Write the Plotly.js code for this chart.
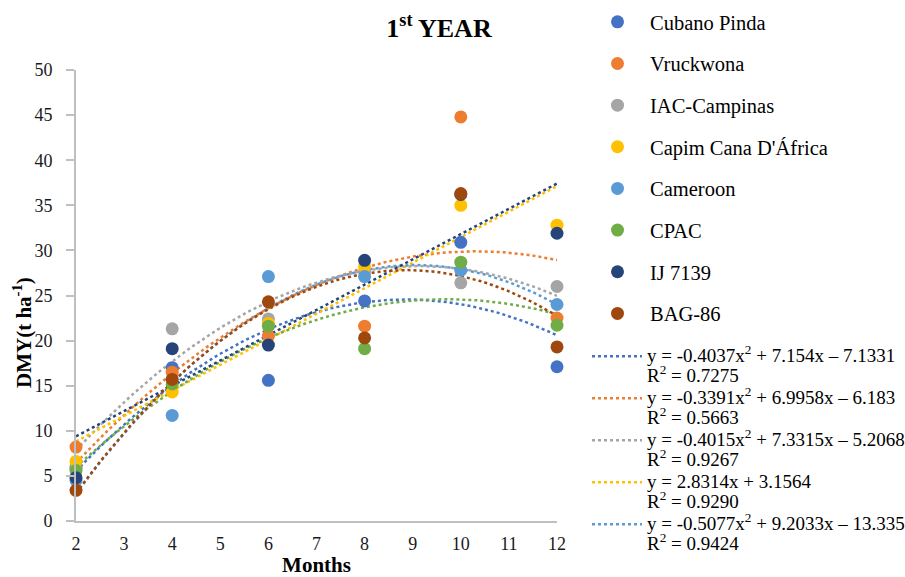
<!DOCTYPE html>
<html><head><meta charset="utf-8">
<script src="https://cdn.plot.ly/plotly-3.0.1.min.js"></script>
<style>html,body{margin:0;padding:0;background:#fff}#chart{width:905px;height:577px}</style>
</head><body><div id="chart"></div>
<script>
// ---- data ----
const months = [2, 4, 6, 8, 10, 12];
const seriesNames = ['Cubano Pinda', 'Vruckwona', 'IAC-Campinas', "Capim Cana D'África", 'Cameroon', 'CPAC', 'IJ 7139', 'BAG-86'];
const cubanoPinda = [6.0, 17.0, 15.6, 24.4, 30.9, 17.1];
const vruckwona   = [8.2, 16.5, 20.5, 21.6, 44.8, 22.5];
const iacCampinas = [5.8, 21.3, 22.4, 27.6, 26.4, 26.0];
const capimCana   = [6.6, 14.3, 21.9, 28.2, 35.0, 32.8];
const cameroon    = [4.5, 11.7, 27.1, 27.1, 27.8, 24.0];
const cpac        = [5.6, 15.2, 21.6, 19.1, 28.7, 21.7];
const ij7139      = [4.8, 19.1, 19.5, 28.9, 36.2, 31.9];
const bag86       = [3.4, 15.7, 24.3, 20.3, 36.3, 19.3];
const seriesValues = [cubanoPinda, vruckwona, iacCampinas, capimCana, cameroon, cpac, ij7139, bag86];
const seriesColors = ['#4472C4', '#ED7D31', '#A5A5A5', '#FFC000', '#5B9BD5', '#70AD47', '#264478', '#9E480E'];

// trendline coefficients printed in the legend: [x^2, x, constant]
const trendCubano   = [-0.4037, 7.154, -7.1331];
const trendVruck    = [-0.3391, 6.9958, -6.183];
const trendIac      = [-0.4015, 7.3315, -5.2068];
const trendCapim    = [0, 2.8314, 3.1564];
const trendCameroon = [-0.5077, 9.2033, -13.335];
const printedTrends = [trendCubano, trendVruck, trendIac, trendCapim, trendCameroon];
const trendEquations = ['y = -0.4037x<sup>2</sup> + 7.154x – 7.1331', 'y = -0.3391x<sup>2</sup> + 6.9958x – 6.183',
  'y = -0.4015x<sup>2</sup> + 7.3315x – 5.2068', 'y = 2.8314x + 3.1564', 'y = -0.5077x<sup>2</sup> + 9.2033x – 13.335'];
const trendR2 = ['0.7275', '0.5663', '0.9267', '0.9290', '0.9424'];
// trend order for series whose equations are not printed (CPAC, IJ 7139, BAG-86)
const unprintedOrders = [2, 1, 2];

// least squares polynomial fit (what the spreadsheet trendline does)
function polyfit(xs, ys, order) {
  const n = order + 1;
  const A = Array.from({length: n}, () => new Array(n + 1).fill(0));
  for (let k = 0; k < xs.length; k++) {
    for (let i = 0; i < n; i++) {
      for (let j = 0; j < n; j++) A[i][j] += Math.pow(xs[k], i + j);
      A[i][n] += ys[k] * Math.pow(xs[k], i);
    }
  }
  for (let i = 0; i < n; i++) {
    let p = i; for (let r = i + 1; r < n; r++) if (Math.abs(A[r][i]) > Math.abs(A[p][i])) p = r;
    [A[i], A[p]] = [A[p], A[i]];
    for (let r = 0; r < n; r++) if (r !== i) {
      const f = A[r][i] / A[i][i];
      for (let c = i; c <= n; c++) A[r][c] -= f * A[i][c];
    }
  }
  const coef = A.map((row, i) => row[n] / row[i]); // [c0, c1, (c2)]
  return [order === 2 ? coef[2] : 0, coef[1], coef[0]];
}
const allTrends = printedTrends.concat(unprintedOrders.map((o, i) => polyfit(months, seriesValues[5 + i], o)));

const trendX = [];
for (let i = 0; i <= 100; i++) trendX.push(months[0] + i * (months[months.length - 1] - months[0]) / 100);

const SERIF = 'Liberation Serif, Times New Roman, serif';
const traces = [];
allTrends.forEach((c, i) => {
  const hasLabel = i < trendEquations.length;
  traces.push({
    type: 'scatter', mode: 'lines', x: trendX,
    y: trendX.map(x => c[0] * x * x + c[1] * x + c[2]),
    line: {color: seriesColors[i], width: 2.5, dash: 'dot'},
    name: hasLabel ? '<span style="font-size:19px">' + trendEquations[i] + '</span><br><span style="font-size:19px">R<sup>2</sup> = ' + trendR2[i] + '</span>' : '',
    showlegend: hasLabel, legend: 'legend2', hoverinfo: 'skip', cliponaxis: false
  });
});
seriesValues.forEach((vals, i) => {
  traces.push({
    type: 'scatter', mode: 'markers', x: months, y: vals, name: seriesNames[i],
    marker: {color: seriesColors[i], size: 13},
    legend: 'legend', legendgroup: 'g' + i, cliponaxis: false
  });
});

const layout = {
  width: 905, height: 577,
  margin: {l: 76, r: 348, t: 70, b: 56},
  paper_bgcolor: '#fff', plot_bgcolor: '#fff',
  font: {family: SERIF, color: '#000'},
  showlegend: true,
  title: {text: '<b>1<sup>st</sup> YEAR</b>', font: {family: SERIF, size: 26, color: '#000'},
    x: 439 / 905, xref: 'container', xanchor: 'center', y: 1 - 28 / 577, yref: 'container', yanchor: 'middle'},
  xaxis: {range: [2, 12], dtick: 1, tick0: 2, showgrid: false, zeroline: false,
    showline: true, linecolor: '#BFBFBF', linewidth: 2,
    ticks: 'outside', ticklen: 5, tickcolor: 'rgba(0,0,0,0)',
    tickfont: {family: SERIF, size: 18, color: '#1a1a1a'},
    title: {text: '<b>Months</b>', font: {family: SERIF, size: 21, color: '#000'}, standoff: 8}},
  yaxis: {range: [0, 50], dtick: 5, showgrid: false, zeroline: false,
    showline: true, linecolor: '#BFBFBF', linewidth: 2,
    ticks: 'outside', ticklen: 8, tickwidth: 2, tickcolor: '#BFBFBF', ticklabelstandoff: 10,
    tickfont: {family: SERIF, size: 18, color: '#1a1a1a'}},
  annotations: [{text: '<b>DMY(t ha<sup>-1</sup>)</b>', textangle: -90, showarrow: false,
    xref: 'paper', yref: 'paper', x: (22 - 76) / 481, y: (521 - 333) / 451, xanchor: 'center', yanchor: 'middle',
    font: {family: SERIF, size: 21, color: '#000'}}],
  legend: {x: 585 / 905, xref: 'container', xanchor: 'left', y: 1 - 2 / 577, yref: 'container', yanchor: 'top',
    font: {family: SERIF, size: 20.5, color: '#000'}, traceorder: 'grouped', tracegroupgap: 12,
    itemwidth: 55, maxheight: 560, bgcolor: 'rgba(0,0,0,0)'},
  legend2: {x: 587 / 905, xref: 'container', xanchor: 'left', y: 1 - 340 / 577, yref: 'container', yanchor: 'top',
    font: {family: SERIF, size: 15, color: '#000'}, traceorder: 'normal', valign: 'top',
    itemwidth: 50, maxheight: 560, bgcolor: 'rgba(0,0,0,0)'}
};
Plotly.newPlot('chart', traces, layout, {displayModeBar: false, staticPlot: true});
</script></body></html>
